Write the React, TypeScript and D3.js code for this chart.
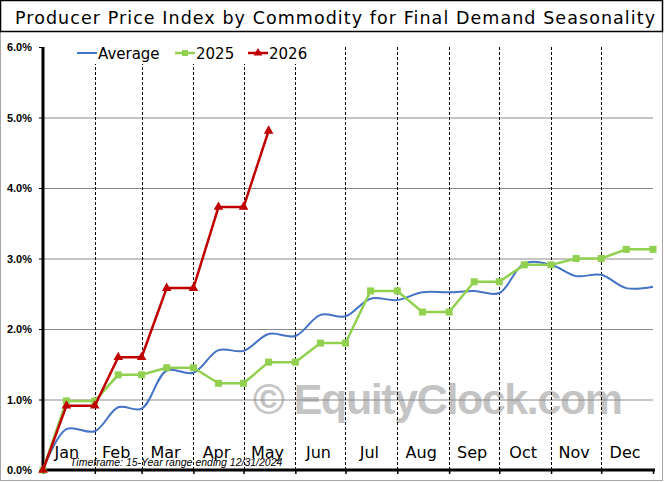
import React, { useRef, useEffect } from 'react';
import * as d3 from 'd3';

// x positions of every plotted point (mid-month release, then month end)
const pointDates = [
  '2025-01-01', '2025-01-15', '2025-02-01', '2025-02-15', '2025-03-01',
  '2025-03-16', '2025-04-01', '2025-04-16', '2025-05-01', '2025-05-16',
  '2025-06-01', '2025-06-16', '2025-07-01', '2025-07-16', '2025-08-01',
  '2025-08-16', '2025-09-01', '2025-09-16', '2025-10-01', '2025-10-16',
  '2025-11-01', '2025-11-16', '2025-12-01', '2025-12-16', '2026-01-01'
];

const averageValues = [
  0, 0.58, 0.55, 0.89, 0.87, 1.41, 1.38, 1.70, 1.69, 1.93, 1.90, 2.20, 2.18,
  2.43, 2.41, 2.52, 2.52, 2.54, 2.51, 2.93, 2.91, 2.75, 2.77, 2.58, 2.60
];

const values2025 = [
  0, 0.98, 0.98, 1.35, 1.35, 1.45, 1.45, 1.23, 1.23, 1.53, 1.53, 1.80, 1.80,
  2.54, 2.54, 2.24, 2.24, 2.67, 2.67, 2.91, 2.91, 3.00, 3.00, 3.13, 3.13
];

const values2026 = [0, 0.91, 0.91, 1.60, 1.60, 2.58, 2.58, 3.73, 3.73, 4.81];

const monthLabels = ['Jan', 'Feb', 'Mar', 'Apr', 'May', 'Jun', 'Jul', 'Aug', 'Sep', 'Oct', 'Nov', 'Dec'];
const yTicks = [0, 1, 2, 3, 4, 5, 6];

const title = 'Producer Price Index by Commodity for Final Demand Seasonality';
const footnote = 'Timeframe: 15-Year range ending 12/31/2024';

const W = 665;
const H = 482;

const App: React.FC = () => {
  const svgRef = useRef<SVGSVGElement>(null);

  useEffect(() => {
    if (!svgRef.current) return;
    const svg = d3.select(svgRef.current);
    svg.selectAll('*').remove();

    const parse = d3.timeParse('%Y-%m-%d');
    const dates = pointDates.map(d => parse(d) as Date);
    const yearStart = new Date(2025, 0, 1);
    const yearEnd = new Date(2026, 0, 1);

    const x = d3.scaleTime().domain([yearStart, yearEnd]).range([43, 653]);
    const y = d3.scaleLinear().domain([0, 6]).range([470, 47]);

    const monthStarts = d3.timeMonth.range(yearStart, yearEnd);
    const boundaries = [...monthStarts, yearEnd];

    // outer frame
    svg.append('rect')
      .attr('x', 0.5).attr('y', 0.5)
      .attr('width', 662).attr('height', 480)
      .attr('fill', '#fff')
      .attr('stroke', '#a6a6a6');

    // title box
    svg.append('rect')
      .attr('x', 0.5).attr('y', 0.5)
      .attr('width', 662).attr('height', 31)
      .attr('fill', '#fff')
      .attr('stroke', '#000')
      .attr('stroke-width', 1.5);

    svg.append('text')
      .attr('x', 15).attr('y', 24)
      .attr('textLength', 640)
      .attr('lengthAdjust', 'spacing')
      .style('font-family', '"DejaVu Sans", Verdana, sans-serif')
      .style('font-size', '17.5px')
      .text(title);

    // watermark
    svg.append('text')
      .attr('x', 253).attr('y', 414)
      .attr('textLength', 370)
      .attr('lengthAdjust', 'spacing')
      .style('font-family', '"Liberation Sans", Arial, sans-serif')
      .style('font-weight', 'bold')
      .style('font-size', '43px')
      .attr('fill', '#c4c4c4')
      .text('\u00A9 EquityClock.com');

    // horizontal grid
    svg.append('g')
      .selectAll('line')
      .data(yTicks.filter(t => t > 0 && t < 6))
      .join('line')
      .attr('x1', 43).attr('x2', 653)
      .attr('y1', d => y(d) + 0.5).attr('y2', d => y(d) + 0.5)
      .attr('stroke', '#8a8a8a')
      .attr('stroke-width', 1);

    // vertical dashed month dividers
    svg.append('g')
      .selectAll('line')
      .data(monthStarts.slice(1))
      .join('line')
      .attr('x1', d => Math.round(x(d)) + 0.5).attr('x2', d => Math.round(x(d)) + 0.5)
      .attr('y1', 47).attr('y2', 470)
      .attr('stroke', '#000')
      .attr('stroke-width', 1)
      .attr('stroke-dasharray', '3,2');

    // y axis
    const yAxis = d3.axisLeft(y)
      .tickValues(yTicks)
      .tickSize(4)
      .tickFormat(d => `${d3.format('.1f')(d as number)}%`);
    const yg = svg.append('g')
      .attr('transform', 'translate(43,0)')
      .call(yAxis);
    yg.select('.domain').attr('stroke-width', 3).attr('d', `M0,${y(6)}V${y(0)}`);
    yg.selectAll('.tick line').attr('stroke', '#000');
    yg.selectAll('.tick text')
      .attr('x', -11)
      .attr('fill', '#000')
      .style('font-family', '"Liberation Sans", Arial, sans-serif')
      .style('font-weight', 'bold')
      .style('font-size', '11px');

    // x axis
    const xAxis = d3.axisBottom(x)
      .tickValues(boundaries)
      .tickSize(4)
      .tickFormat(() => '');
    const xg = svg.append('g')
      .attr('transform', 'translate(0,470)')
      .call(xAxis);
    xg.select('.domain').attr('stroke-width', 3).attr('d', `M${x(yearStart)},0H${x(yearEnd) + 2}`);
    xg.selectAll('.tick line').attr('stroke', '#000').attr('stroke-width', 1.5);

    // month labels
    svg.append('g')
      .selectAll('text')
      .data(monthStarts)
      .join('text')
      .attr('x', (d, i) => (x(d) + x(boundaries[i + 1])) / 2 - 2)
      .attr('y', 458)
      .attr('text-anchor', 'middle')
      .style('font-family', '"DejaVu Sans", Verdana, sans-serif')
      .style('font-size', '16px')
      .text((d, i) => monthLabels[i]);

    svg.append('text')
      .attr('x', 70).attr('y', 466)
      .style('font-family', '"Liberation Sans", Arial, sans-serif')
      .style('font-style', 'italic')
      .style('font-size', '10.5px')
      .text(footnote);

    // series
    const avgLine = d3.line<number>()
      .x((d, i) => x(dates[i]))
      .y(d => y(d))
      .curve(d3.curveCatmullRom.alpha(0.5));

    const stepLine = d3.line<number>()
      .x((d, i) => x(dates[i]))
      .y(d => y(d));

    svg.append('path')
      .datum(averageValues)
      .attr('fill', 'none')
      .attr('stroke', '#4472c4')
      .attr('stroke-width', 2)
      .attr('d', avgLine);

    svg.append('path')
      .datum(values2025)
      .attr('fill', 'none')
      .attr('stroke', '#92d050')
      .attr('stroke-width', 2.5)
      .attr('d', stepLine);

    svg.append('g')
      .selectAll('rect')
      .data(values2025)
      .join('rect')
      .attr('x', (d, i) => x(dates[i]) - 3.5)
      .attr('y', d => y(d) - 3.5)
      .attr('width', 7).attr('height', 7)
      .attr('fill', '#92d050');

    svg.append('path')
      .datum(values2026)
      .attr('fill', 'none')
      .attr('stroke', '#c00000')
      .attr('stroke-width', 2.5)
      .attr('d', stepLine);

    const tri = d3.symbol().type(d3.symbolTriangle).size(40);
    svg.append('g')
      .selectAll('path')
      .data(values2026)
      .join('path')
      .attr('transform', (d, i) => `translate(${x(dates[i])},${y(d)})`)
      .attr('fill', '#c00000')
      .attr('d', tri);

    // legend
    const lg = svg.append('g');
    lg.append('rect')
      .attr('x', 72).attr('y', 38)
      .attr('width', 244).attr('height', 26)
      .attr('fill', '#fff');

    const legendItems = [
      { name: 'Average', color: '#4472c4', x0: 77, marker: 'none' },
      { name: '2025', color: '#92d050', x0: 175, marker: 'square' },
      { name: '2026', color: '#c00000', x0: 248, marker: 'triangle' }
    ];
    legendItems.forEach(item => {
      lg.append('line')
        .attr('x1', item.x0).attr('x2', item.x0 + 20)
        .attr('y1', 53).attr('y2', 53)
        .attr('stroke', item.color)
        .attr('stroke-width', item.marker === 'none' ? 2 : 2.5);
      if (item.marker === 'square') {
        lg.append('rect')
          .attr('x', item.x0 + 7).attr('y', 50)
          .attr('width', 6).attr('height', 6)
          .attr('fill', item.color);
      } else if (item.marker === 'triangle') {
        lg.append('path')
          .attr('transform', `translate(${item.x0 + 10},53)`)
          .attr('fill', item.color)
          .attr('d', d3.symbol().type(d3.symbolTriangle).size(34)());
      }
      lg.append('text')
        .attr('x', item.x0 + 21).attr('y', 59)
        .style('font-family', '"DejaVu Sans", Verdana, sans-serif')
        .style('font-size', '15px')
        .text(item.name);
    });
  }, []);

  return (
    <svg
      ref={svgRef}
      width={W}
      height={H}
      style={{ position: 'absolute', left: 0, top: 0, background: '#fff' }}
    />
  );
};

export default App;
